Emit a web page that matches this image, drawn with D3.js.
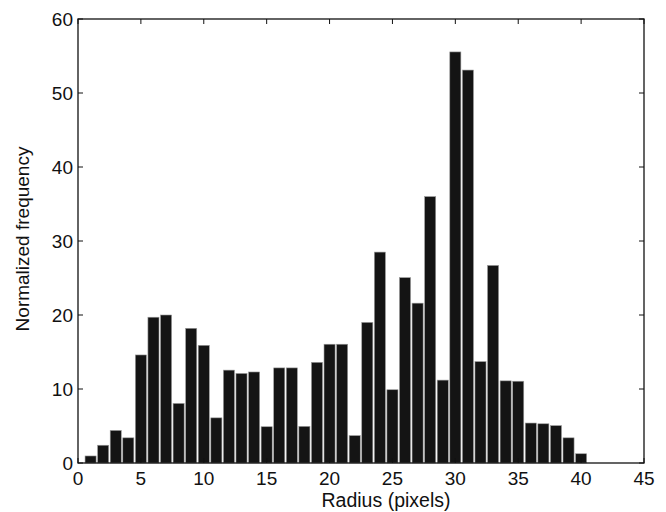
<!DOCTYPE html>
<html>
<head>
<meta charset="utf-8">
<script src="https://cdn.jsdelivr.net/npm/d3@7"></script>
<style>
  html, body { margin: 0; padding: 0; background: #fff; }
  svg text { font-family: "Liberation Sans", Arial, Helvetica, sans-serif; fill: #111; }
</style>
</head>
<body>
<div id="chart"></div>
<script>
// bin centres (radius in pixels) and normalized frequency per bin
const radii = d3.range(1, 41);
const freq = [
  0.95, 2.4, 4.4, 3.4, 14.6, 19.7, 20.0, 8.05, 18.2, 15.9,
  6.1, 12.55, 12.1, 12.3, 4.9, 12.85, 12.85, 4.95, 13.6, 16.05,
  16.05, 3.7, 19.0, 28.5, 9.9, 25.05, 21.6, 36.0, 11.2, 55.55,
  53.1, 13.7, 26.7, 11.1, 11.05, 5.4, 5.3, 5.05, 3.4, 1.25
];
const xTicks = [0, 5, 10, 15, 20, 25, 30, 35, 40, 45];
const yTicks = [0, 10, 20, 30, 40, 50, 60];

const width = 666, height = 512;
const margin = { left: 78, right: 22, top: 19, bottom: 49 };

const svg = d3.select('#chart')
  .append('svg')
    .attr('width', width)
    .attr('height', height);

const x = d3.scaleLinear()
  .domain([0, 45])
  .range([margin.left, width - margin.right]);

const y = d3.scaleLinear()
  .domain([0, 60])
  .range([height - margin.bottom, margin.top]);

const barW = (x(1) - x(0)) * 0.88;

// bars
svg.append('g')
  .selectAll('rect')
  .data(radii)
  .join('rect')
    .attr('x', (d) => x(d) - barW / 2)
    .attr('y', (d, i) => y(freq[i]))
    .attr('width', barW)
    .attr('height', (d, i) => y(0) - y(freq[i]))
    .attr('fill', '#141414')
    .attr('stroke', '#9a9a9a')
    .attr('stroke-width', 0.6);

// box
svg.append('rect')
  .attr('x', x(0))
  .attr('y', y(60))
  .attr('width', x(45) - x(0))
  .attr('height', y(0) - y(60))
  .attr('fill', 'none')
  .attr('stroke', '#111')
  .attr('stroke-width', 1.3);

const tickLen = 5;

// bottom / top ticks (inward) + labels
const gx = svg.append('g');
gx.selectAll('line.b')
  .data(xTicks)
  .join('line')
    .attr('class', 'b')
    .attr('x1', (d) => x(d)).attr('x2', (d) => x(d))
    .attr('y1', y(0)).attr('y2', y(0) - tickLen)
    .attr('stroke', '#111');
gx.selectAll('line.t')
  .data(xTicks)
  .join('line')
    .attr('class', 't')
    .attr('x1', (d) => x(d)).attr('x2', (d) => x(d))
    .attr('y1', y(60)).attr('y2', y(60) + tickLen)
    .attr('stroke', '#111');
gx.selectAll('text')
  .data(xTicks)
  .join('text')
    .attr('x', (d) => x(d))
    .attr('y', y(0) + 22)
    .attr('text-anchor', 'middle')
    .attr('font-size', 19)
    .text((d) => d);

// left / right ticks + labels
const gy = svg.append('g');
gy.selectAll('line.l')
  .data(yTicks)
  .join('line')
    .attr('class', 'l')
    .attr('x1', x(0)).attr('x2', x(0) + tickLen)
    .attr('y1', (d) => y(d)).attr('y2', (d) => y(d))
    .attr('stroke', '#111');
gy.selectAll('line.r')
  .data(yTicks)
  .join('line')
    .attr('class', 'r')
    .attr('x1', x(45)).attr('x2', x(45) - tickLen)
    .attr('y1', (d) => y(d)).attr('y2', (d) => y(d))
    .attr('stroke', '#111');
gy.selectAll('text')
  .data(yTicks)
  .join('text')
    .attr('x', x(0) - 5)
    .attr('y', (d) => y(d) + 7)
    .attr('text-anchor', 'end')
    .attr('font-size', 19)
    .text((d) => d);

// axis titles
svg.append('text')
  .attr('x', 386)
  .attr('y', 507)
  .attr('text-anchor', 'middle')
  .attr('font-size', 19.5)
  .text('Radius (pixels)');

svg.append('text')
  .attr('transform', 'translate(29,239) rotate(-90)')
  .attr('text-anchor', 'middle')
  .attr('font-size', 19)
  .text('Normalized frequency');
</script>
</body>
</html>
